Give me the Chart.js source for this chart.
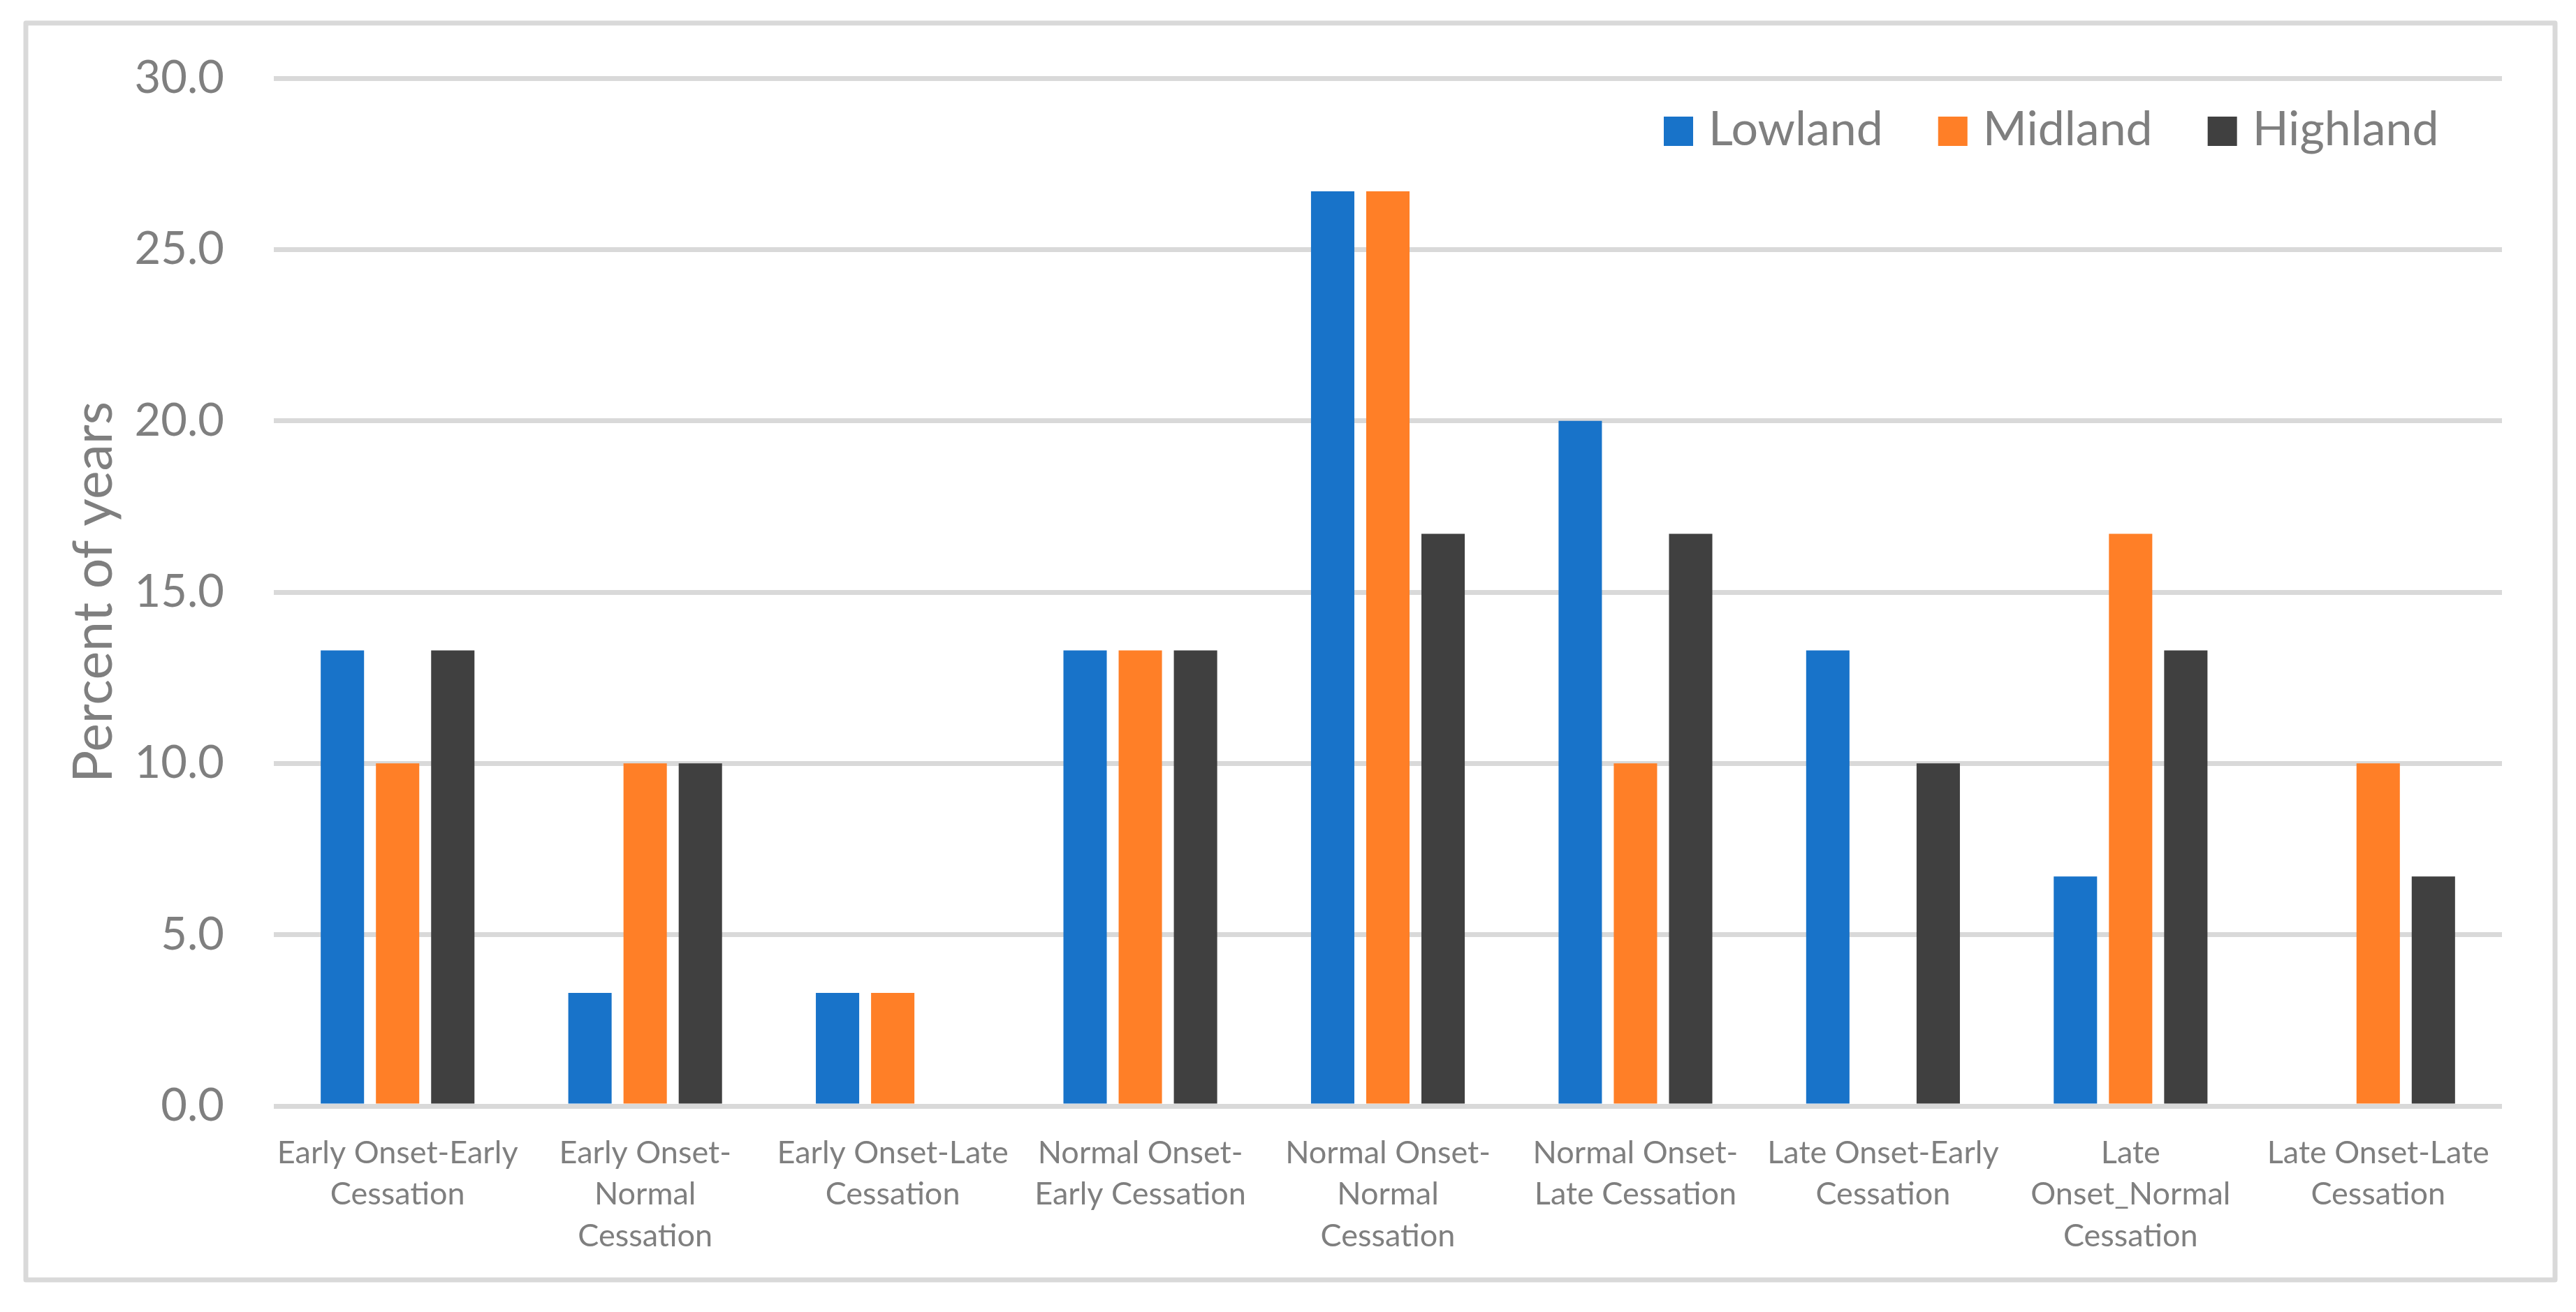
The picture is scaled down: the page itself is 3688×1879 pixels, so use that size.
<!DOCTYPE html>
<html lang="en">
<head>
<meta charset="UTF-8">
<title>Percent of years</title>
<script src="https://cdn.jsdelivr.net/npm/chart.js@4.4.1/dist/chart.umd.min.js"></script>
<style>
  html, body { margin: 0; padding: 0; background: #fff; }
  canvas { display: block; }
</style>
</head>
<body>
<canvas id="grafico" width="3688" height="1879"></canvas>
<script>
// categorias (quebradas em linhas como no original)
const categorias = [
  ["Early Onset-Early", "Cessation"],
  ["Early Onset-", "Normal", "Cessation"],
  ["Early Onset-Late", "Cessation"],
  ["Normal Onset-", "Early Cessation"],
  ["Normal Onset-", "Normal", "Cessation"],
  ["Normal Onset-", "Late Cessation"],
  ["Late Onset-Early", "Cessation"],
  ["Late", "Onset_Normal", "Cessation"],
  ["Late Onset-Late", "Cessation"]
];

const lowland  = [13.3, 3.3, 3.3, 13.3, 26.7, 20.0, 13.3, 6.7, 0];
const midland  = [10.0, 10.0, 3.3, 13.3, 26.7, 10.0, 0, 16.7, 10.0];
const highland = [13.3, 10.0, 0, 13.3, 16.7, 16.7, 10.0, 13.3, 6.7];

const nomesSeries = ["Lowland", "Midland", "Highland"];
const coresSeries = ["#1873C9", "#FF7F27", "#404040"];

const yMin = 0;
const yMax = 30;
const yPasso = 5;
const tituloY = "Percent of years";

const cinzaTexto = "#7f7f7f";
const cinzaLinha = "#d9d9d9";
const fonte = "Lato";

// fundo branco + moldura cinza
const moldura = {
  id: 'moldura',
  beforeDraw(chart) {
    const ctx = chart.ctx;
    ctx.save();
    ctx.fillStyle = "#ffffff";
    ctx.fillRect(0, 0, chart.width, chart.height);
    ctx.strokeStyle = cinzaLinha;
    ctx.lineWidth = 7;
    ctx.lineJoin = "round";
    ctx.strokeRect(37, 33, 3658 - 37, 1833 - 33);
    ctx.restore();
  }
};

// legenda dentro da area do grafico, canto superior direito
const legenda = {
  id: 'legenda',
  afterDraw(chart) {
    const ctx = chart.ctx;
    ctx.save();
    ctx.font = "68px " + fonte;
    ctx.textBaseline = "alphabetic";
    let x = 2382;
    chart.data.datasets.forEach(ds => {
      ctx.fillStyle = ds.backgroundColor;
      ctx.fillRect(x, 167, 42, 42);
      ctx.fillStyle = cinzaTexto;
      ctx.fillText(ds.label, x + 64, 208);
      x += 64 + ctx.measureText(ds.label).width + 79;
    });
    ctx.restore();
  }
};

const data = {
  labels: categorias,
  datasets: [
    { label: nomesSeries[0], data: lowland,  backgroundColor: coresSeries[0] },
    { label: nomesSeries[1], data: midland,  backgroundColor: coresSeries[1] },
    { label: nomesSeries[2], data: highland, backgroundColor: coresSeries[2] }
  ]
};

const config = {
  type: 'bar',
  data: data,
  plugins: [moldura, legenda],
  options: {
    responsive: false,
    devicePixelRatio: 1,
    animation: false,
    categoryPercentage: 0.669,
    barPercentage: 0.785,
    layout: { padding: { left: 0, right: 106, top: 112, bottom: 0 } },
    plugins: {
      legend: { display: false },
      tooltip: { enabled: false }
    },
    scales: {
      x: {
        grid: { display: false },
        border: { display: false },
        ticks: {
          color: cinzaTexto,
          font: { family: fonte, size: 45, lineHeight: 1.333 },
          padding: 29,
          maxRotation: 0,
          minRotation: 0,
          autoSkip: false
        },
        afterFit: (escala) => { escala.height = 295; }
      },
      y: {
        min: yMin,
        max: yMax,
        grid: { color: cinzaLinha, lineWidth: 7, drawTicks: false },
        border: { display: false },
        ticks: {
          stepSize: yPasso,
          color: cinzaTexto,
          font: { family: fonte, size: 65 },
          padding: 71,
          callback: (v) => Number(v).toFixed(1)
        },
        title: {
          display: true,
          text: tituloY,
          color: cinzaTexto,
          font: { family: fonte, size: 77, lineHeight: 1 },
          padding: { top: 97, bottom: 0 }
        },
        afterFit: (escala) => { escala.width = 392; }
      }
    }
  }
};

const grafico = new Chart(document.getElementById('grafico'), config);
</script>
</body>
</html>
